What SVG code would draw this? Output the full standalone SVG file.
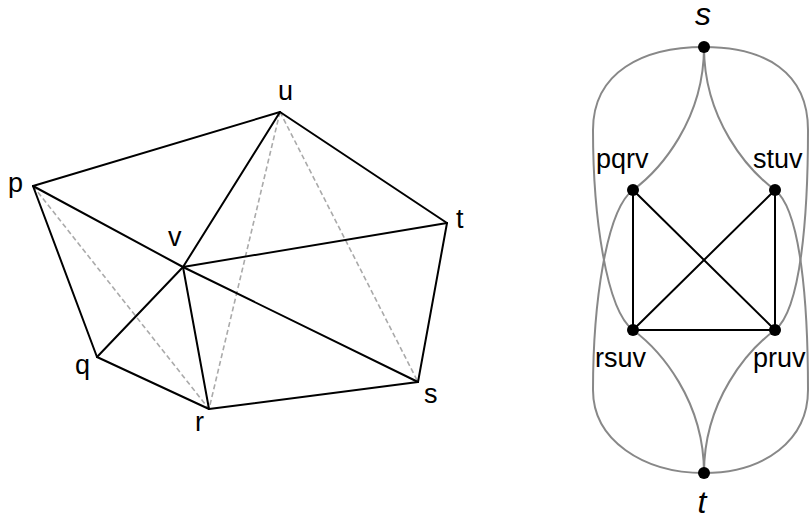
<svg xmlns="http://www.w3.org/2000/svg" width="810" height="521" viewBox="0 0 810 521">
<style>
.bg{fill:#fff}
.e{stroke:#000;stroke-width:2;fill:none;stroke-linecap:round}
.d{stroke:#aaa;stroke-width:1.6;fill:none;stroke-dasharray:5,3}
.c{stroke:#888;stroke-width:2;fill:none}
.lbl{font-family:"Liberation Sans",Arial,sans-serif;font-size:27px;fill:#000}
.big{font-family:"Liberation Sans",Arial,sans-serif;font-size:32px;font-style:italic;fill:#000}
.dot{fill:#000}
</style>
<rect class="bg" x="0" y="0" width="810" height="521"/>
<g id="left-connectors">
<line class="d" x1="33" y1="186" x2="209" y2="409"/>
<line class="d" x1="280" y1="112" x2="209" y2="409"/>
<line class="d" x1="280" y1="112" x2="418" y2="382"/>
<line class="e" x1="33" y1="186" x2="280" y2="112"/>
<line class="e" x1="280" y1="112" x2="447" y2="223"/>
<line class="e" x1="447" y1="223" x2="418" y2="382"/>
<line class="e" x1="418" y1="382" x2="209" y2="409"/>
<line class="e" x1="209" y1="409" x2="97" y2="357"/>
<line class="e" x1="97" y1="357" x2="33" y2="186"/>
<line class="e" x1="33" y1="186" x2="183" y2="267"/>
<line class="e" x1="183" y1="267" x2="280" y2="112"/>
<line class="e" x1="183" y1="267" x2="447" y2="223"/>
<line class="e" x1="183" y1="267" x2="418" y2="382"/>
<line class="e" x1="183" y1="267" x2="209" y2="409"/>
<line class="e" x1="183" y1="267" x2="97" y2="357"/>
</g>
<g id="node-p"><text class="lbl" x="8" y="192">p</text></g>
<g id="node-u"><text class="lbl" x="278" y="100">u</text></g>
<g id="node-t"><text class="lbl" x="456" y="228">t</text></g>
<g id="node-v"><text class="lbl" x="168" y="246">v</text></g>
<g id="node-q"><text class="lbl" x="75" y="374">q</text></g>
<g id="node-r"><text class="lbl" x="195" y="431">r</text></g>
<g id="node-s"><text class="lbl" x="424" y="403">s</text></g>
<g id="right-connectors">
<path class="c" d="M704,47 C704,120 660,170 633,190"/>
<path class="c" d="M704,47 C704,120 748,170 775,190"/>
<path class="c" d="M633,330 C660,350 704,400 704,473"/>
<path class="c" d="M775,330 C748,350 704,400 704,473"/>
<path class="c" d="M633,190 C606,210 593,305 593,390 C593,440 643,473 704,473"/>
<path class="c" d="M775,190 C801,210 808,305 808,390 C808,440 765,473 704,473"/>
<path class="c" d="M704,47 C643,47 593,72 593,130 C593,215 606,310 633,330"/>
<path class="c" d="M704,47 C765,47 808,72 808,130 C808,215 801,310 775,330"/>
<line class="e" x1="633" y1="190" x2="633" y2="330"/>
<line class="e" x1="633" y1="190" x2="775" y2="330"/>
<line class="e" x1="775" y1="190" x2="633" y2="330"/>
<line class="e" x1="775" y1="190" x2="775" y2="330"/>
<line class="e" x1="633" y1="330" x2="775" y2="330"/>
</g>
<g id="node-S"><circle class="dot" cx="704" cy="47" r="6"/><text class="big" x="703" y="25" text-anchor="middle">s</text></g>
<g id="node-T"><circle class="dot" cx="704" cy="473" r="6"/><text class="big" x="702" y="513" text-anchor="middle">t</text></g>
<g id="node-pqrv"><circle class="dot" cx="633" cy="190" r="6"/><text class="lbl" x="596" y="168">pqrv</text></g>
<g id="node-stuv"><circle class="dot" cx="775" cy="190" r="6"/><text class="lbl" x="753" y="168">stuv</text></g>
<g id="node-rsuv"><circle class="dot" cx="633" cy="330" r="6"/><text class="lbl" x="595" y="367">rsuv</text></g>
<g id="node-pruv"><circle class="dot" cx="775" cy="330" r="6"/><text class="lbl" x="753" y="367">pruv</text></g>
</svg>
